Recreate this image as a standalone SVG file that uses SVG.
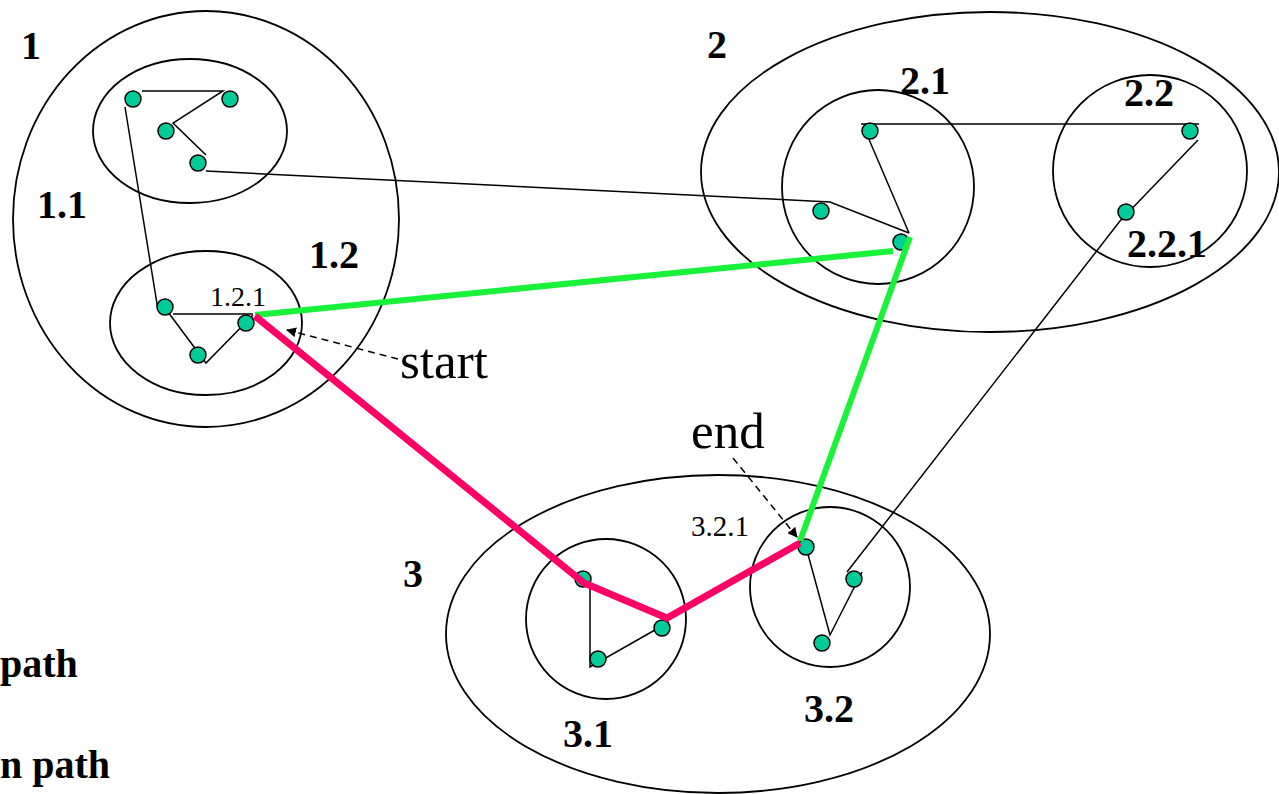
<svg xmlns="http://www.w3.org/2000/svg" width="1279" height="794" viewBox="0 0 1279 794">
<style>
.cl{fill:none;stroke:#000;stroke-width:1.8}
.ln{fill:none;stroke:#000;stroke-width:1.5}
.nd{fill:#00CC99;stroke:#000;stroke-width:1.5}
.lb{font-family:"Liberation Serif","Times New Roman",serif;font-weight:bold;font-size:40px;fill:#000}
.tx{font-family:"Liberation Serif","Times New Roman",serif;fill:#000}
.pink{fill:none;stroke:#FF0066;stroke-width:7;stroke-linejoin:miter}
.green{fill:none;stroke:#1AF23A;stroke-width:6}
.dash{fill:none;stroke:#000;stroke-width:1.5;stroke-dasharray:7 5}
</style>
<defs>
<marker id="ah" viewBox="0 0 10 10" refX="9" refY="5" markerWidth="10" markerHeight="10" markerUnits="userSpaceOnUse" orient="auto">
<path d="M0,0 L10,5 L0,10 z" fill="#000"/>
</marker>
</defs>
<rect width="1279" height="794" fill="#fff"/>
<g id="cluster-1">
<ellipse class="cl" cx="206" cy="219" rx="193" ry="208"/>
<text class="lb" x="21" y="59">1</text>
</g>
<g id="cluster-1-1">
<ellipse class="cl" cx="190" cy="131" rx="97" ry="72"/>
<text class="lb" x="37" y="218">1.1</text>
</g>
<g id="cluster-1-2">
<ellipse class="cl" cx="206" cy="323" rx="96" ry="72"/>
<text class="lb" x="309" y="268">1.2</text>
<text class="tx" x="210" y="306" font-size="28">1.2.1</text>
</g>
<g id="cluster-2">
<ellipse class="cl" cx="990" cy="172" rx="289" ry="160"/>
<text class="lb" x="707" y="58">2</text>
</g>
<g id="cluster-2-1">
<ellipse class="cl" cx="878" cy="187" rx="96" ry="97"/>
<text class="lb" x="900" y="94">2.1</text>
</g>
<g id="cluster-2-2">
<ellipse class="cl" cx="1150" cy="171" rx="97" ry="96"/>
<text class="lb" x="1124" y="106">2.2</text>
<text class="lb" x="1127" y="257">2.2.1</text>
</g>
<g id="cluster-3">
<ellipse class="cl" cx="718" cy="634" rx="272" ry="159"/>
<text class="lb" x="403" y="587">3</text>
</g>
<g id="cluster-3-1">
<ellipse class="cl" cx="606" cy="619" rx="80" ry="80"/>
<text class="lb" x="563" y="747">3.1</text>
</g>
<g id="cluster-3-2">
<ellipse class="cl" cx="830" cy="587" rx="80" ry="80"/>
<text class="lb" x="804" y="722">3.2</text>
<text class="tx" x="691" y="536" font-size="29">3.2.1</text>
</g>
<g id="connectors">
<polyline class="ln" points="142,91 223,91 173,123 206,155"/>
<line class="ln" x1="125" y1="107" x2="158" y2="310"/>
<line class="ln" x1="173" y1="314" x2="253" y2="314"/>
<polyline class="ln" points="168,312 206,363 253,315"/>
<polyline class="ln" points="206,171 830,202 909,233"/>
<line class="ln" x1="868" y1="137" x2="909" y2="233"/>
<line class="ln" x1="861" y1="124" x2="1199" y2="124"/>
<polyline class="ln" points="1198,140 1120,221 847,572"/>
<polyline class="ln" points="590,582 590,667 669,622"/>
<polyline class="ln" points="806,547 830,635 862,572"/>
<line class="dash" x1="398" y1="359" x2="287" y2="330" marker-end="url(#ah)"/>
<line class="dash" x1="733" y1="458" x2="797" y2="537" marker-end="url(#ah)"/>
</g>
<g id="nodes">
<circle class="nd" cx="133" cy="99" r="8"/>
<circle class="nd" cx="230" cy="99" r="8"/>
<circle class="nd" cx="166" cy="131" r="8"/>
<circle class="nd" cx="198" cy="163" r="8"/>
<circle class="nd" cx="165" cy="307" r="8"/>
<circle class="nd" cx="198" cy="355" r="8"/>
<circle class="nd" cx="246" cy="323" r="8"/>
<circle class="nd" cx="870" cy="131" r="8"/>
<circle class="nd" cx="1190" cy="131" r="8"/>
<circle class="nd" cx="821" cy="211" r="8"/>
<circle class="nd" cx="901" cy="242" r="8"/>
<circle class="nd" cx="1126" cy="212" r="8"/>
<circle class="nd" cx="583" cy="579" r="8"/>
<circle class="nd" cx="662" cy="628" r="8"/>
<circle class="nd" cx="598" cy="659" r="8"/>
<circle class="nd" cx="806" cy="547" r="8"/>
<circle class="nd" cx="854" cy="579" r="8"/>
<circle class="nd" cx="822" cy="643" r="8"/>
</g>
<g id="paths">
<line class="green" x1="255" y1="315" x2="893" y2="251"/>
<line class="green" x1="910" y1="237" x2="800" y2="541"/>
<polyline class="pink" points="255,316 584,583 667,618 800,543"/>
</g>
<g id="labels">
<text class="tx" x="400" y="378" font-size="51">start</text>
<text class="tx" x="691" y="448" font-size="51">end</text>
<text class="lb" x="0" y="677">path</text>
<text class="lb" x="0" y="778">n path</text>
</g>
</svg>
